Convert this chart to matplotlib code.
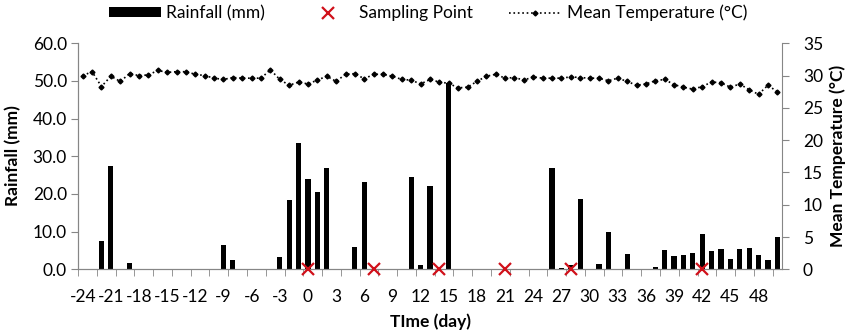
import numpy as np
import matplotlib.pyplot as plt
from matplotlib.lines import Line2D
from matplotlib.patches import Patch

plt.rcParams['font.family'] = ['Lato', 'DejaVu Sans']

# daily categories
days = np.arange(-24, 51)

temp_c = [30.0, 30.6, 28.3, 29.9, 29.1, 30.3, 30.0, 30.1, 30.8, 30.5,
          30.6, 30.6, 30.2, 30.0, 29.6, 29.4, 29.7, 29.6, 29.6, 29.6,
          30.9, 29.4, 28.5, 29.0, 28.7, 29.3, 29.9, 29.1, 30.2, 30.3,
          29.5, 30.2, 30.2, 29.9, 29.4, 29.3, 28.7, 29.4, 29.0, 28.8,
          28.1, 28.2, 29.1, 29.9, 30.2, 29.6, 29.7, 29.3, 29.8, 29.6,
          29.6, 29.6, 29.8, 29.7, 29.6, 29.6, 29.2, 29.6, 29.1, 28.5,
          28.7, 29.2, 29.4, 28.6, 28.2, 27.9, 28.3, 29.0, 28.9, 28.2,
          28.7, 27.8, 27.1, 28.5, 27.5]

rain_days = [-22, -21, -19, -9, -8, -3, -2, -1, 0, 1, 2, 5, 6, 11, 12, 13, 15,
             26, 27, 28, 29, 31, 32, 34, 37, 38, 39, 40, 41, 42, 43, 44, 45,
             46, 47, 48, 49, 50]
rain_mm = [7.6, 27.3, 1.6, 6.4, 2.5, 3.2, 18.4, 33.6, 24.0, 20.4, 26.8, 5.9,
           23.3, 24.5, 1.1, 22.1, 49.4, 26.8, 0.3, 1.1, 18.7, 1.3, 9.9, 4.0,
           0.7, 5.1, 3.5, 3.9, 4.2, 9.3, 4.9, 5.4, 2.7, 5.4, 5.6, 3.9, 2.4, 8.6]

sample_days = [0, 7, 14, 21, 28, 42]
sample_vals = [0, 0, 0, 0, 0, 0]

tick_days = list(range(-24, 49, 3))
tick_labels = [str(d) for d in tick_days]

grey = '#868686'
red = '#D0101A'
fs = 12.5
W, H = 850, 336

fig = plt.figure(figsize=(8.5, 3.36), dpi=100)
ax = fig.add_axes([78 / W, 1 - 269.3 / H, 704 / W, 226 / H])
ax2 = ax.twinx()

ax.bar(rain_days, rain_mm, width=0.55, color='black', zorder=2)
ax.set_xlim(-24.5, 50.5)
ax.set_ylim(0, 60)
ax.set_yticks(np.arange(0, 61, 10))
ax.set_yticklabels(['%.1f' % v for v in np.arange(0, 61, 10)])

ax2.plot(days, temp_c, linestyle=':', color='black', linewidth=1.2,
         marker='D', markersize=2.5, zorder=3)
ax2.plot(sample_days, sample_vals, linestyle='none', marker='x', color=red,
         markersize=8, markeredgewidth=1.6, clip_on=False, zorder=4)
ax2.set_ylim(0, 35)
ax2.set_yticks(np.arange(0, 36, 5))

ax.set_xticks(tick_days)
ax.set_xticklabels(tick_labels)
ax.set_xticks(np.arange(-24.5, 50.6, 2), minor=True)
ax.tick_params(axis='x', which='major', length=0, pad=14, labelsize=fs)
ax.tick_params(axis='x', which='minor', length=5, color=grey, direction='out')
ax.tick_params(axis='y', length=5, color=grey, pad=3, labelsize=fs)
ax2.tick_params(axis='y', length=5, color=grey, pad=10, labelsize=fs)

for a in (ax, ax2):
    a.spines['top'].set_visible(False)
    for s in ('left', 'right', 'bottom'):
        a.spines[s].set_color(grey)
ax.spines['right'].set_visible(False)

# axis titles placed in figure pixels
fig.text(430 / W, 1 - 322 / H, 'TIme (day)', fontsize=fs, fontweight='bold',
         ha='center', va='center')
fig.text(13 / W, 1 - 156 / H, 'Rainfall (mm)', fontsize=fs, fontweight='bold',
         rotation=90, ha='center', va='center')
fig.text(838 / W, 1 - 156 / H, 'Mean Temperature (°C)', fontsize=fs,
         fontweight='bold', rotation=90, ha='center', va='center')

handles = [Patch(facecolor='black'),
           Line2D([], [], linestyle='none', marker='x', color=red,
                  markersize=8, markeredgewidth=1.6),
           Line2D([], [], linestyle=':', color='black', linewidth=1.2,
                  marker='D', markersize=2.5)]
labels = ['Rainfall (mm)', 'Sampling Point', 'Mean Temperature (°C)']
fig.legend(handles, labels, loc='center', bbox_to_anchor=(428 / W, 1 - 13 / H),
           ncol=3, frameon=False, fontsize=fs, handlelength=3,
           handleheight=0.5, handletextpad=0.3, columnspacing=2.1)

fig.savefig('out.png', dpi=100)
